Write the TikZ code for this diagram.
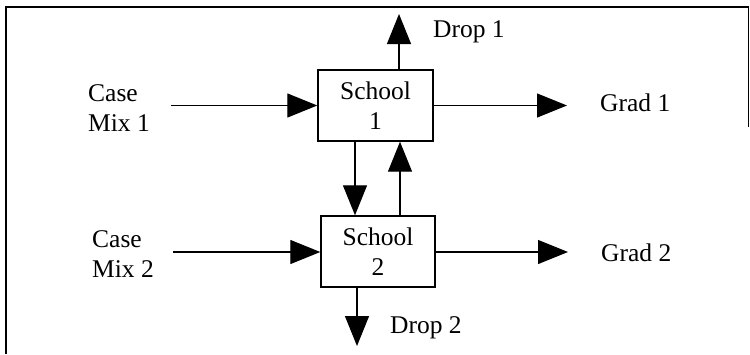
\documentclass[tikz,border=0pt]{standalone}
\usepackage{fontspec}
\setmainfont{Liberation Serif}
\usetikzlibrary{arrows.meta}
\begin{document}
\begin{tikzpicture}[x=1pt,y=-1pt,
  every node/.style={font=\fontsize{25.5}{30}\selectfont, inner sep=0pt},
  box/.style={draw, line width=1.4pt, minimum width=115pt, minimum height=71pt, align=center},
  lbl/.style={align=left},
  arr/.style={line width=1.2pt, -{Triangle[length=30pt,width=24pt]}},
  frame/.style={line width=1.4pt}]
\useasboundingbox (0,0) rectangle (750,354);
\draw[frame] (6,354) -- (6,7) -- (748.5,7) -- (748.5,127);
% boxes
\node[box] (s1) at (375.5,105.5) {School\\1};
\node[box, minimum width=114pt] (s2) at (378,251.5) {School\\2};
% labels
\node[lbl, anchor=west] (cm1) at (88,108) {Case\\Mix 1};
\node[lbl, anchor=west] (cm2) at (92,254) {Case\\Mix 2};
\node[anchor=base west] (g1) at (600,111) {Grad 1};
\node[anchor=base west] (g2) at (601,261) {Grad 2};
\node[anchor=base west] (d1) at (433,37) {Drop 1};
\node[anchor=base west] (d2) at (390,333) {Drop 2};
% free-end coordinates
\coordinate (in1) at (171,105.5);
\coordinate (in2) at (173,252);
\coordinate (out1) at (567,105.5);
\coordinate (out2) at (568,252);
\coordinate (up1) at (399,14);
\coordinate (dn2) at (357,346);
\coordinate (xa) at (355,0);
\coordinate (xb) at (400,0);
% connectors
\draw[arr] (in1) -- (s1.west |- in1);
\draw[arr] (in2) -- (s2.west |- in2);
\draw[arr] (s1.east |- out1) -- (out1);
\draw[arr] (s2.east |- out2) -- (out2);
\draw[arr] (s1.north -| up1) -- (up1);
\draw[arr] (s2.south -| dn2) -- (dn2);
\draw[arr] (s1.south -| xa) -- (s2.north -| xa);
\draw[arr] (s2.north -| xb) -- (s1.south -| xb);
\end{tikzpicture}
\end{document}
